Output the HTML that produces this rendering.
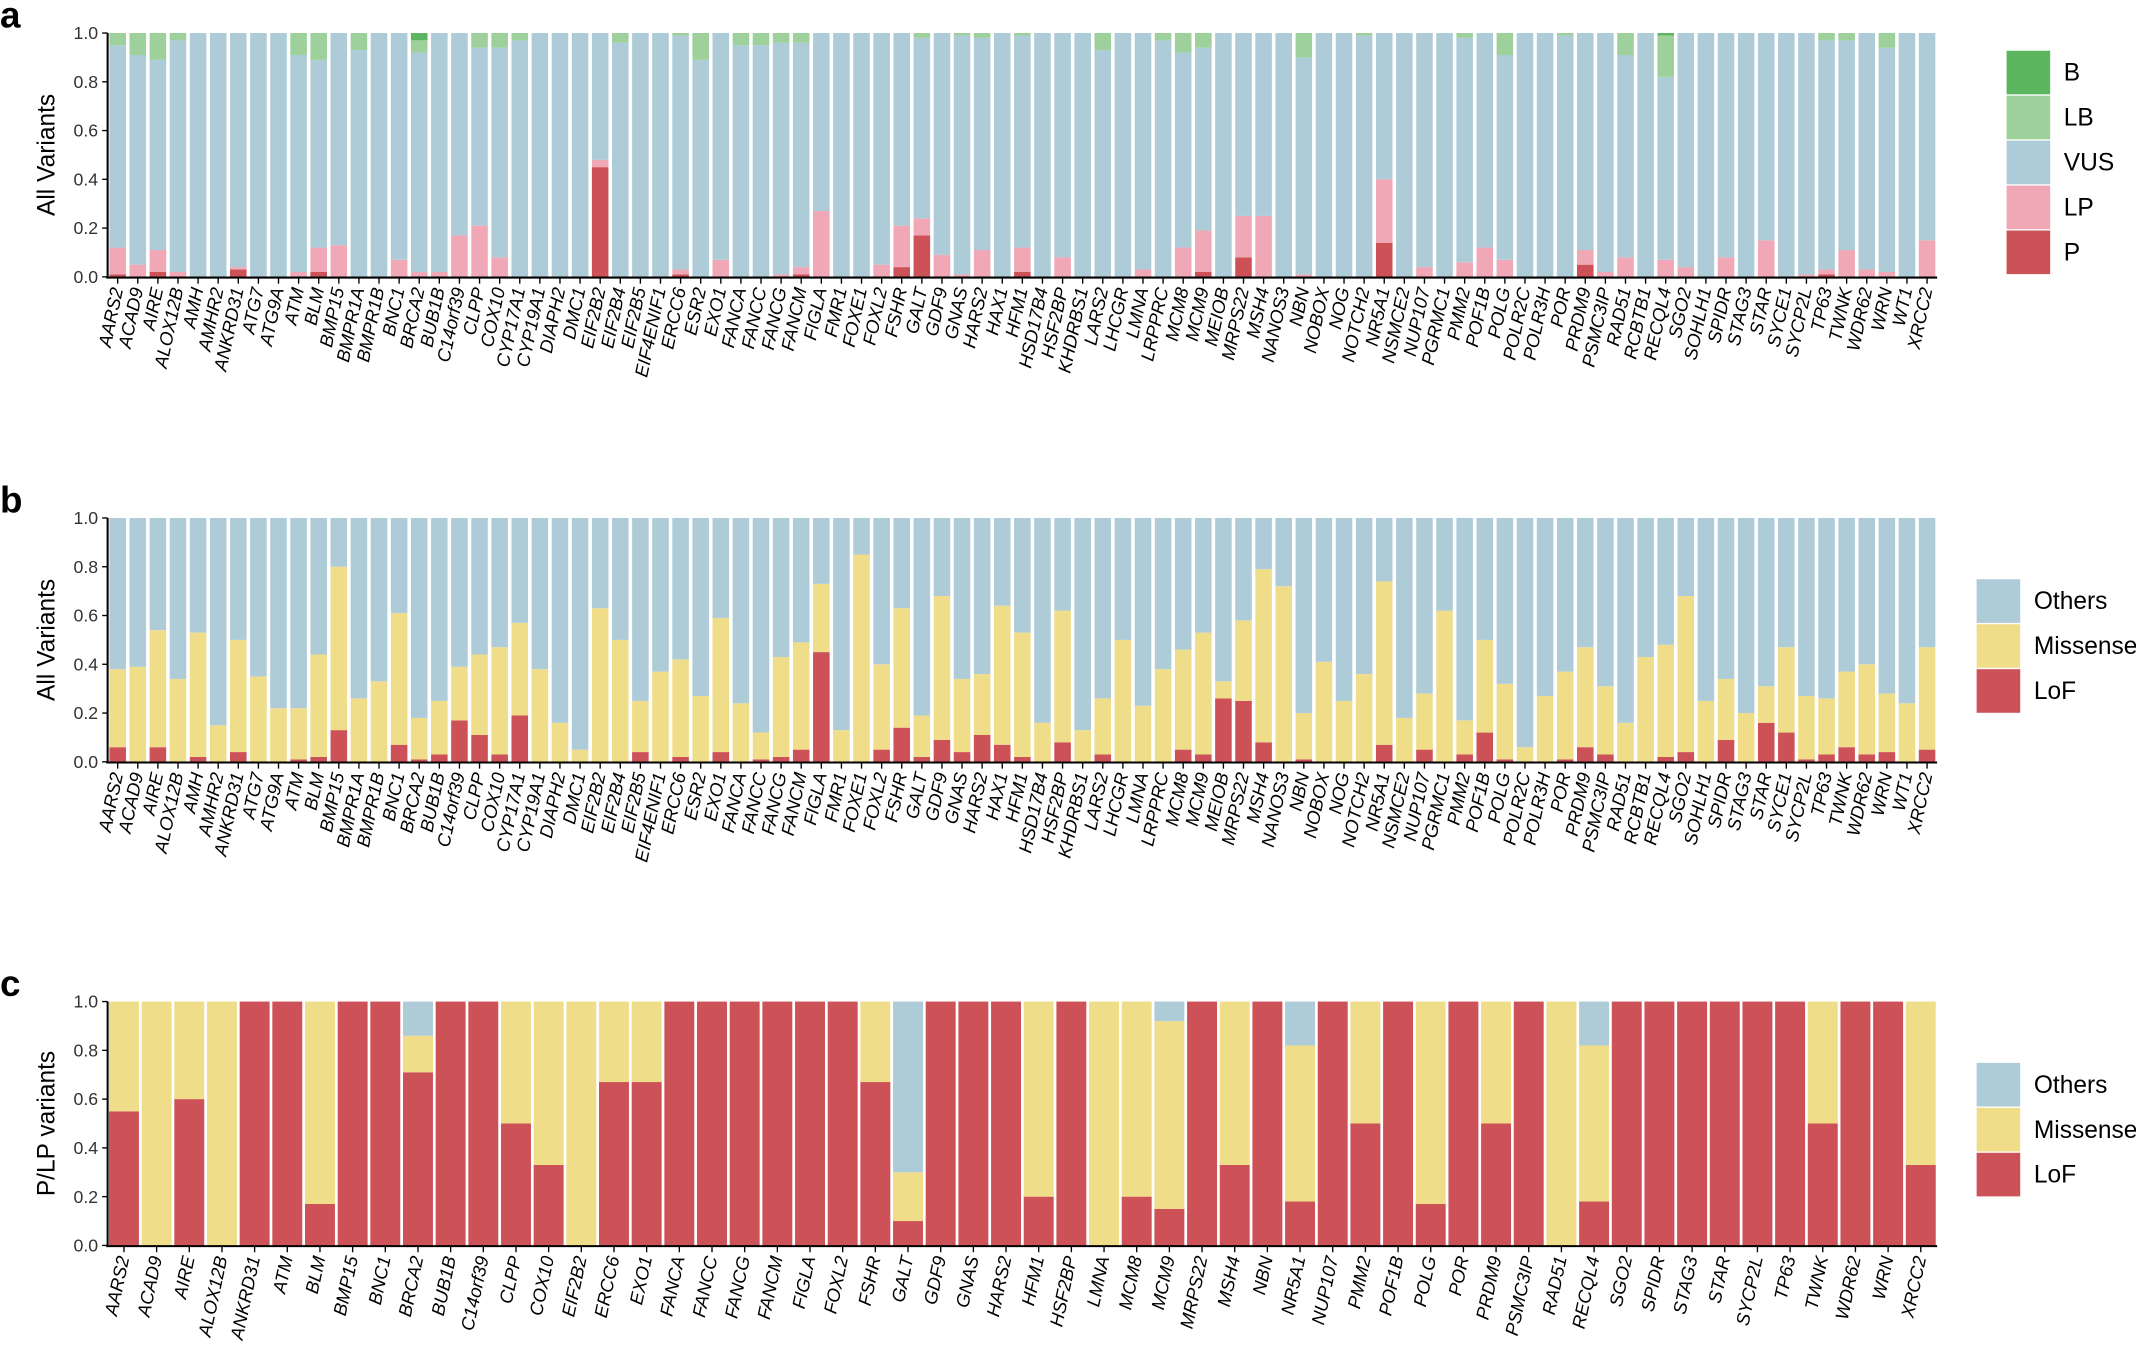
<!DOCTYPE html>
<html><head><meta charset="utf-8"><style>
html,body{margin:0;padding:0;background:#fff;}
svg{display:block;font-family:"Liberation Sans",Arial,sans-serif;}
</style></head><body>
<svg id="s" width="2136" height="1352" viewBox="0 0 1568 992" xmlns="http://www.w3.org/2000/svg"></svg>
<script>
const S=document.getElementById('s');let h='';
const C={P:'#cd5257',LP:'#f0a8b6',VUS:'#aecbd8',LB:'#9dd09a',B:'#5cb660',M:'#f0dd8a'};
const gA="AARS2 ACAD9 AIRE ALOX12B AMH AMHR2 ANKRD31 ATG7 ATG9A ATM BLM BMP15 BMPR1A BMPR1B BNC1 BRCA2 BUB1B C14orf39 CLPP COX10 CYP17A1 CYP19A1 DIAPH2 DMC1 EIF2B2 EIF2B4 EIF2B5 EIF4ENIF1 ERCC6 ESR2 EXO1 FANCA FANCC FANCG FANCM FIGLA FMR1 FOXE1 FOXL2 FSHR GALT GDF9 GNAS HARS2 HAX1 HFM1 HSD17B4 HSF2BP KHDRBS1 LARS2 LHCGR LMNA LRPPRC MCM8 MCM9 MEIOB MRPS22 MSH4 NANOS3 NBN NOBOX NOG NOTCH2 NR5A1 NSMCE2 NUP107 PGRMC1 PMM2 POF1B POLG POLR2C POLR3H POR PRDM9 PSMC3IP RAD51 RCBTB1 RECQL4 SGO2 SOHLH1 SPIDR STAG3 STAR SYCE1 SYCP2L TP63 TWNK WDR62 WRN WT1 XRCC2".split(' ');
// [P, LPtop, VUStop, Bstart]
const dA=[[.01,.12,.95,1],[0,.05,.91,1],[.02,.11,.89,1],[0,.02,.97,1],[0,0,1,1],[0,0,1,1],[.03,.04,1,1],[0,0,1,1],[0,0,1,1],[0,.02,.91,1],[.02,.12,.89,1],[0,.13,1,1],[0,0,.93,1],[0,0,1,1],[0,.07,1,1],[0,.02,.92,.97],[0,.02,1,1],[0,.17,1,1],[0,.21,.94,1],[0,.08,.94,1],[0,0,.97,1],[0,0,1,1],[0,0,1,1],[0,0,1,1],[.45,.48,1,1],[0,0,.96,1],[0,0,1,1],[0,0,1,1],[.01,.03,.99,1],[0,0,.89,1],[0,.07,1,1],[0,0,.95,1],[0,0,.95,1],[0,.01,.96,1],[.01,.04,.96,1],[0,.27,1,1],[0,0,1,1],[0,0,1,1],[0,.05,1,1],[.04,.21,1,1],[.17,.24,.98,1],[0,.09,1,1],[0,.01,.99,1],[0,.11,.98,1],[0,0,1,1],[.02,.12,.99,1],[0,0,1,1],[0,.08,1,1],[0,0,1,1],[0,0,.93,1],[0,0,1,1],[0,.03,1,1],[0,0,.97,1],[0,.12,.92,1],[.02,.19,.94,1],[0,0,1,1],[.08,.25,1,1],[0,.25,1,1],[0,0,1,1],[0,.01,.9,1],[0,0,1,1],[0,0,1,1],[0,0,.99,1],[.14,.40,1,1],[0,0,1,1],[0,.04,1,1],[0,0,1,1],[0,.06,.98,1],[0,.12,1,1],[0,.07,.91,1],[0,0,1,1],[0,0,1,1],[0,0,.99,1],[.05,.11,1,1],[0,.02,1,1],[0,.08,.91,1],[0,0,1,1],[0,.07,.82,.99],[0,.04,1,1],[0,0,1,1],[0,.08,1,1],[0,0,1,1],[0,.15,1,1],[0,0,1,1],[0,.01,1,1],[.01,.03,.97,1],[0,.11,.97,1],[0,.03,1,1],[0,.02,.94,1],[0,0,1,1],[0,.15,1,1]];
const dB=[[.06,.38],[0,.39],[.06,.54],[0,.34],[.02,.53],[0,.15],[.04,.50],[0,.35],[0,.22],[.01,.22],[.02,.44],[.13,.80],[0,.26],[0,.33],[.07,.61],[.01,.18],[.03,.25],[.17,.39],[.11,.44],[.03,.47],[.19,.57],[0,.38],[0,.16],[0,.05],[0,.63],[0,.50],[.04,.25],[0,.37],[.02,.42],[0,.27],[.04,.59],[0,.24],[.01,.12],[.02,.43],[.05,.49],[.45,.73],[0,.13],[0,.85],[.05,.40],[.14,.63],[.02,.19],[.09,.68],[.04,.34],[.11,.36],[.07,.64],[.02,.53],[0,.16],[.08,.62],[0,.13],[.03,.26],[0,.50],[0,.23],[0,.38],[.05,.46],[.03,.53],[.26,.33],[.25,.58],[.08,.79],[0,.72],[.01,.20],[0,.41],[0,.25],[0,.36],[.07,.74],[0,.18],[.05,.28],[0,.62],[.03,.17],[.12,.50],[.01,.32],[0,.06],[0,.27],[.01,.37],[.06,.47],[.03,.31],[0,.16],[0,.43],[.02,.48],[.04,.68],[0,.25],[.09,.34],[0,.20],[.16,.31],[.12,.47],[.01,.27],[.03,.26],[.06,.37],[.03,.40],[.04,.28],[0,.24],[.05,.47]];
const gC="AARS2 ACAD9 AIRE ALOX12B ANKRD31 ATM BLM BMP15 BNC1 BRCA2 BUB1B C14orf39 CLPP COX10 EIF2B2 ERCC6 EXO1 FANCA FANCC FANCG FANCM FIGLA FOXL2 FSHR GALT GDF9 GNAS HARS2 HFM1 HSF2BP LMNA MCM8 MCM9 MRPS22 MSH4 NBN NR5A1 NUP107 PMM2 POF1B POLG POR PRDM9 PSMC3IP RAD51 RECQL4 SGO2 SPIDR STAG3 STAR SYCP2L TP63 TWNK WDR62 WRN XRCC2".split(' ');
const dC=[[.55,1],[0,1],[.6,1],[0,1],[1,1],[1,1],[.17,1],[1,1],[1,1],[.71,.86],[1,1],[1,1],[.5,1],[.33,1],[0,1],[.67,1],[.67,1],[1,1],[1,1],[1,1],[1,1],[1,1],[1,1],[.67,1],[.1,.3],[1,1],[1,1],[1,1],[.2,1],[1,1],[0,1],[.2,1],[.15,.92],[1,1],[.33,1],[1,1],[.18,.82],[1,1],[.5,1],[1,1],[.17,1],[1,1],[.5,1],[1,1],[0,1],[.18,.82],[1,1],[1,1],[1,1],[1,1],[1,1],[1,1],[.5,1],[1,1],[1,1],[.33,1]];
const X0=79,X1=1422;
function rect(x,y0,v0,v1,w,c,H){if(v1<=v0)return;h+=`<rect x="${x.toFixed(2)}" y="${(y0-v1*H).toFixed(2)}" width="${w.toFixed(2)}" height="${((v1-v0)*H).toFixed(2)}" fill="${c}"/>`;}
function axes(y0,title,genes,letter,ly){
 const H=179;h+=`<text x="0" y="${y0-H-4}" font-size="27" font-weight="bold">${letter}</text>`;
 h+=`<line x1="${X0}" y1="${y0-H}" x2="${X0}" y2="${y0+1}" stroke="#000" stroke-width="1.5"/><line x1="${X0-1}" y1="${y0+0.5}" x2="${X1}" y2="${y0+0.5}" stroke="#000" stroke-width="1.5"/>`;
 for(let i=0;i<=5;i++){const y=y0-i*0.2*H;h+=`<line x1="${X0-4}" y1="${y}" x2="${X0}" y2="${y}" stroke="#000"/><text x="${X0-7}" y="${y+4.5}" font-size="13" text-anchor="end" fill="#333">${(i*0.2).toFixed(1)}</text>`;}
 h+=`<text transform="translate(40,${y0-H/2}) rotate(-90)" font-size="18" text-anchor="middle">${title}</text>`;
 const n=genes.length,bw=(X1-X0)/n;
 genes.forEach((g,i)=>{const cx=X0+bw*(i+0.5);h+=`<line x1="${cx}" y1="${y0+1}" x2="${cx}" y2="${y0+5}" stroke="#000"/><text transform="translate(${cx+4},${y0+9}) rotate(-78)" font-size="13.5" font-style="italic" text-anchor="end">${g}</text>`;});
 return bw;
}
function legend(x,yc,items){items.forEach((it,i)=>{const y=yc+i*33;h+=`<rect x="${x}" y="${y-16}" width="32" height="32" fill="${it[1]}"/><text x="${x+42}" y="${y+6}" font-size="18">${it[0]}</text>`;});}
// a
let y0=203,H=179,bw=(X1-X0)/91,g=2.6;
dA.forEach((d,i)=>{const x=X0+bw*i+g/2,w=bw-g;rect(x,y0,0,d[0],w,C.P,H);rect(x,y0,d[0],d[1],w,C.LP,H);rect(x,y0,d[1],d[2],w,C.VUS,H);rect(x,y0,d[2],d[3],w,C.LB,H);rect(x,y0,d[3],1,w,C.B,H);});
axes(y0,'All Variants',gA,'a');
legend(1473,53,[['B',C.B],['LB',C.LB],['VUS',C.VUS],['LP',C.LP],['P',C.P]]);
// b
y0=559;
dB.forEach((d,i)=>{const x=X0+bw*i+g/2,w=bw-g;rect(x,y0,0,d[0],w,C.P,H);rect(x,y0,d[0],d[1],w,C.M,H);rect(x,y0,d[1],1,w,C.VUS,H);});
axes(y0,'All Variants',gA,'b');
legend(1451,441,[['Others',C.VUS],['Missense',C.M],['LoF',C.P]]);
// c
y0=914;bw=(X1-X0)/56;g=2;
dC.forEach((d,i)=>{const x=X0+bw*i+g/2,w=bw-g;rect(x,y0,0,d[0],w,C.P,H);rect(x,y0,d[0],d[1],w,C.M,H);rect(x,y0,d[1],1,w,C.VUS,H);});
axes(y0,'P/LP variants',gC,'c');
legend(1451,796,[['Others',C.VUS],['Missense',C.M],['LoF',C.P]]);
S.innerHTML=h;
</script>
</body></html>
